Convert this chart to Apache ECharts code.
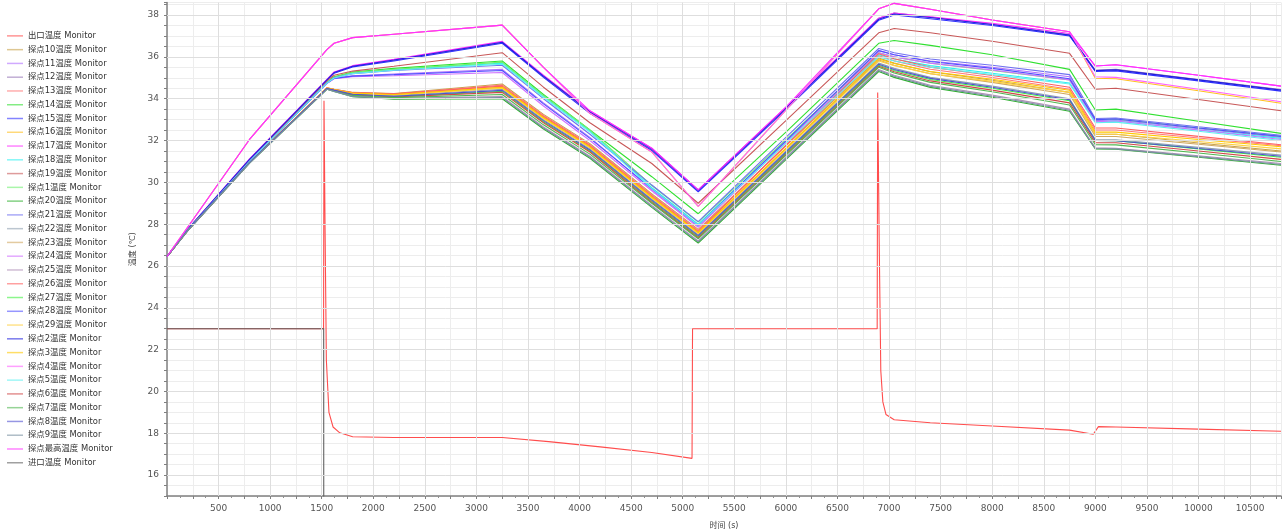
<!DOCTYPE html>
<html>
<head>
<meta charset="utf-8">
<script src="https://cdn.jsdelivr.net/npm/echarts@6/dist/echarts.min.js"></script>
<style>
html,body{margin:0;padding:0;background:#fff;}
#chart{width:1282px;height:530px;}
</style>
</head>
<body>
<div id="chart"></div>
<script>
// Sample times (s) shared by all probe curves
const timeS = [0, 200, 800, 1550, 1620, 1800, 2200, 3250, 3650, 4100, 4700, 5150, 6000, 6900, 7050, 7400, 8000, 8750, 9000, 9200, 10000, 10800];

// Probe temperatures (°C) at each sample time
const probe1  = [26.45, 27.72, 31.0, 34.76, 35.02, 35.25, 35.4, 35.75, 34.15, 32.5, 29.85, 28.1, 32.04, 36.2, 36.0, 35.7, 35.35, 34.9, 33.0, 33.03, 32.6, 32.2];
const probe2  = [26.45, 27.75, 31.1, 34.9, 35.25, 35.55, 35.85, 36.7, 35.08, 33.38, 31.6, 29.63, 33.55, 37.8, 38.05, 37.88, 37.55, 37.04, 35.34, 35.38, 34.9, 34.41];
const probe3  = [26.45, 27.7, 30.95, 34.51, 34.44, 34.27, 34.2, 34.55, 33.1, 31.7, 29.3, 27.6, 31.63, 35.9, 35.68, 35.3, 34.93, 34.4, 32.4, 32.4, 32.05, 31.7];
const probe4  = [26.45, 27.85, 32.05, 36.35, 36.65, 36.92, 37.08, 37.52, 35.5, 33.3, 31.45, 28.85, 33.45, 38.3, 38.56, 38.28, 37.76, 37.2, 35.05, 35.02, 34.45, 33.85];
const probe5  = [26.45, 27.72, 31.0, 34.74, 34.99, 35.2, 35.36, 35.65, 34.05, 32.4, 29.7, 27.95, 31.86, 36.0, 35.8, 35.5, 35.15, 34.7, 32.85, 32.88, 32.44, 32.0];
const probe6  = [26.45, 27.69, 30.94, 34.48, 34.39, 34.18, 34.08, 34.3, 32.85, 31.45, 29.05, 27.35, 31.34, 35.55, 35.29, 34.85, 34.41, 33.8, 31.9, 31.89, 31.5, 31.1];
const probe7  = [26.45, 27.69, 30.93, 34.47, 34.38, 34.16, 34.05, 34.2, 32.75, 31.35, 29.0, 27.3, 31.29, 35.5, 35.23, 34.78, 34.33, 33.7, 31.8, 31.79, 31.4, 31.0];
const probe8  = [26.45, 27.7, 30.95, 34.49, 34.41, 34.21, 34.12, 34.4, 32.95, 31.55, 29.15, 27.45, 31.44, 35.65, 35.4, 34.97, 34.55, 33.95, 32.0, 31.99, 31.62, 31.25];
const probe9  = [26.45, 27.68, 30.92, 34.45, 34.35, 34.11, 34.0, 34.05, 32.6, 31.2, 28.85, 27.15, 31.14, 35.35, 35.07, 34.59, 34.12, 33.45, 31.62, 31.6, 31.23, 30.85];
const probe10 = [26.45, 27.7, 30.95, 34.52, 34.45, 34.3, 34.25, 34.7, 33.25, 31.85, 29.45, 27.75, 31.74, 35.95, 35.7, 35.29, 34.88, 34.3, 32.3, 32.3, 31.88, 31.5];
const probe11 = [26.45, 27.72, 31.0, 34.74, 34.98, 35.1, 35.18, 35.4, 33.8, 32.15, 29.65, 27.9, 31.98, 36.3, 36.1, 35.8, 35.5, 35.05, 32.95, 32.98, 32.56, 32.15];
const probe12 = [26.45, 27.74, 31.09, 34.9, 35.24, 35.55, 35.84, 36.68, 35.05, 33.35, 31.56, 29.6, 33.55, 37.85, 38.1, 37.9, 37.56, 37.05, 35.36, 35.4, 34.92, 34.44];
const probe13 = [26.45, 27.7, 30.95, 34.5, 34.44, 34.28, 34.22, 34.65, 33.2, 31.8, 29.4, 27.7, 31.76, 36.05, 35.81, 35.41, 35.01, 34.45, 32.5, 32.5, 32.12, 31.75];
const probe14 = [26.45, 27.72, 31.0, 34.78, 35.05, 35.28, 35.45, 35.8, 34.2, 32.5, 30.27, 28.5, 32.4, 36.65, 36.78, 36.55, 36.1, 35.4, 33.46, 33.5, 32.92, 32.34];
const probe15 = [26.45, 27.74, 31.08, 34.88, 35.22, 35.52, 35.8, 36.65, 35.02, 33.3, 31.52, 29.55, 33.48, 37.75, 38.0, 37.82, 37.5, 37.0, 35.3, 35.33, 34.85, 34.36];
const probe16 = [26.45, 27.85, 32.05, 36.35, 36.65, 36.92, 37.08, 37.52, 35.5, 33.3, 31.45, 28.85, 33.45, 38.3, 38.56, 38.28, 37.76, 37.2, 34.98, 34.95, 34.38, 33.78];
const probe17 = [26.45, 27.75, 31.12, 34.92, 35.28, 35.58, 35.88, 36.74, 35.12, 33.42, 31.63, 29.64, 33.6, 37.85, 38.1, 37.92, 37.6, 37.12, 35.56, 35.62, 35.12, 34.6];
const probe18 = [26.45, 27.72, 31.0, 34.75, 35.0, 35.22, 35.38, 35.7, 34.1, 32.45, 29.75, 28.0, 31.95, 36.1, 35.9, 35.58, 35.22, 34.75, 32.9, 32.93, 32.5, 32.1];
const probe19 = [26.45, 27.74, 31.05, 34.85, 35.12, 35.32, 35.55, 36.2, 34.55, 32.85, 30.9, 29.0, 32.95, 37.15, 37.36, 37.15, 36.75, 36.17, 34.45, 34.5, 33.96, 33.42];
const probe20 = [26.45, 27.68, 30.92, 34.45, 34.35, 34.1, 33.98, 34.0, 32.55, 31.15, 28.8, 27.1, 31.09, 35.3, 35.02, 34.54, 34.07, 33.4, 31.6, 31.58, 31.2, 30.82];
const probe21 = [26.45, 27.72, 31.0, 34.75, 35.0, 35.2, 35.35, 35.6, 34.0, 32.3, 29.87, 28.12, 32.15, 36.4, 36.2, 35.9, 35.6, 35.15, 33.05, 33.08, 32.66, 32.25];
const probe22 = [26.45, 27.7, 30.95, 34.5, 34.42, 34.22, 34.15, 34.45, 33.0, 31.6, 29.2, 27.5, 31.49, 35.7, 35.45, 35.02, 34.6, 34.0, 32.05, 32.04, 31.67, 31.3];
const probe23 = [26.45, 27.7, 30.95, 34.51, 34.44, 34.26, 34.2, 34.55, 33.1, 31.7, 29.3, 27.6, 31.61, 35.85, 35.6, 35.19, 34.78, 34.2, 32.2, 32.19, 31.82, 31.45];
const probe24 = [26.45, 27.72, 31.0, 34.73, 34.95, 35.05, 35.1, 35.25, 33.65, 32.0, 29.6, 27.85, 31.9, 36.2, 36.0, 35.7, 35.37, 34.9, 32.9, 32.93, 32.5, 32.05];
const probe25 = [26.45, 27.68, 30.92, 34.46, 34.36, 34.12, 34.02, 34.1, 32.65, 31.25, 28.9, 27.2, 31.19, 35.4, 35.12, 34.64, 34.17, 33.5, 31.65, 31.63, 31.27, 30.9];
const probe26 = [26.45, 27.7, 30.95, 34.52, 34.45, 34.29, 34.23, 34.6, 33.15, 31.75, 29.35, 27.65, 31.78, 36.15, 35.91, 35.51, 35.11, 34.55, 32.6, 32.6, 32.2, 31.8];
const probe27 = [26.45, 27.7, 30.94, 34.49, 34.4, 34.2, 34.1, 34.35, 32.9, 31.5, 29.1, 27.4, 31.39, 35.6, 35.35, 34.92, 34.5, 33.9, 32.0, 31.99, 31.6, 31.2];
const probe28 = [26.45, 27.72, 31.0, 34.74, 34.97, 35.08, 35.15, 35.35, 33.75, 32.1, 29.7, 27.95, 31.98, 36.3, 36.1, 35.78, 35.45, 34.95, 33.0, 33.03, 32.6, 32.2];
const probe29 = [26.45, 27.7, 30.95, 34.5, 34.43, 34.25, 34.18, 34.5, 33.05, 31.65, 29.25, 27.55, 31.56, 35.8, 35.58, 35.2, 34.83, 34.3, 32.3, 32.3, 31.95, 31.6];
const probeMax = [26.45, 27.85, 32.05, 36.35, 36.65, 36.92, 37.08, 37.52, 35.5, 33.42, 31.63, 29.64, 33.6, 38.3, 38.56, 38.28, 37.76, 37.2, 35.56, 35.62, 35.12, 34.6];

// Outlet temperature with its own time base
const outletTime = [0, 1518, 1522, 1532, 1545, 1570, 1610, 1675, 1800, 2200, 3250, 3700, 4200, 4700, 5090, 5095, 6885, 6890, 6905, 6920, 6940, 6970, 7050, 7400, 8000, 8750, 8980, 9030, 9200, 10000, 10800];
const outletTemp = [23, 23, 33.9, 28.0, 21.5, 19.0, 18.3, 18.02, 17.83, 17.8, 17.8, 17.6, 17.35, 17.08, 16.8, 23, 23, 34.3, 27.0, 21.0, 19.5, 18.9, 18.65, 18.5, 18.35, 18.15, 17.95, 18.32, 18.3, 18.2, 18.1];

// Inlet temperature (drops below the plotted range after 1520 s)
const inletTime = [0, 1519, 1520, 10800];
const inletTemp = [23, 23, 10, 10];

// Axis tick labels
const xTickLabels = [500, 1000, 1500, 2000, 2500, 3000, 3500, 4000, 4500, 5000, 5500, 6000, 6500, 7000, 7500, 8000, 8500, 9000, 9500, 10000, 10500];
const yTickLabels = [16, 18, 20, 22, 24, 26, 28, 30, 32, 34, 36, 38];

const seriesDefs = [
  ['出口温度 Monitor', '#ff4d4d', outletTemp, outletTime],
  ['探点10温度 Monitor', '#c8a24a', probe10],
  ['探点11温度 Monitor', '#b070ff', probe11],
  ['探点12温度 Monitor', '#9878b8', probe12],
  ['探点13温度 Monitor', '#ff7878', probe13],
  ['探点14温度 Monitor', '#30e030', probe14],
  ['探点15温度 Monitor', '#3030ff', probe15],
  ['探点16温度 Monitor', '#ffc020', probe16],
  ['探点17温度 Monitor', '#ff30ff', probe17],
  ['探点18温度 Monitor', '#30f0f0', probe18],
  ['探点19温度 Monitor', '#c85858', probe19],
  ['探点1温度 Monitor', '#70f070', probe1],
  ['探点20温度 Monitor', '#30b030', probe20],
  ['探点21温度 Monitor', '#7070f0', probe21],
  ['探点22温度 Monitor', '#8fa0b0', probe22],
  ['探点23温度 Monitor', '#d0a860', probe23],
  ['探点24温度 Monitor', '#d070ff', probe24],
  ['探点25温度 Monitor', '#b090b8', probe25],
  ['探点26温度 Monitor', '#ff6060', probe26],
  ['探点27温度 Monitor', '#40f040', probe27],
  ['探点28温度 Monitor', '#5050ff', probe28],
  ['探点29温度 Monitor', '#ffd040', probe29],
  ['探点2温度 Monitor', '#2020e0', probe2],
  ['探点3温度 Monitor', '#ffc800', probe3],
  ['探点4温度 Monitor', '#ff60ff', probe4],
  ['探点5温度 Monitor', '#60f0f0', probe5],
  ['探点6温度 Monitor', '#d04848', probe6],
  ['探点7温度 Monitor', '#50b850', probe7],
  ['探点8温度 Monitor', '#5050d0', probe8],
  ['探点9温度 Monitor', '#7890a0', probe9],
  ['探点最高温度 Monitor', '#ff30ff', probeMax],
  ['进口温度 Monitor', '#606060', inletTemp, inletTime]
];

const FONT = '"DejaVu Sans", "Noto Sans CJK SC", sans-serif';

const series = [
  // heavier grid lines at the labelled values
  {
    name: 'grid-major', type: 'line', data: [], z: 1, silent: true,
    markLine: {
      silent: true, symbol: 'none', label: { show: false },
      lineStyle: { color: '#dedede', width: 1, type: 'solid' },
      emphasis: { disabled: true },
      data: yTickLabels.map(v => ({ yAxis: v })).concat(xTickLabels.map(v => ({ xAxis: v })))
    }
  }
].concat(seriesDefs.map(([name, color, vals, times]) => ({
  name, type: 'line', showSymbol: false, symbol: 'none', z: 3,
  lineStyle: { color, width: 1.1 }, itemStyle: { color },
  emphasis: { disabled: true },
  data: vals.map((v, i) => [(times || timeS)[i], v])
})));

const chart = echarts.init(document.getElementById('chart'), null, { renderer: 'canvas' });
chart.setOption({
  animation: false,
  backgroundColor: '#ffffff',
  grid: { left: 167, right: 1, top: 2.5, bottom: 34, containLabel: false, outerBoundsMode: 'none' },
  legend: {
    orient: 'vertical', left: 7, top: 29, padding: 0,
    data: seriesDefs.map(d => d[0]),
    icon: 'rect', itemWidth: 16, itemHeight: 1.5, itemGap: 0,
    itemStyle: { opacity: 0.6 },
    textStyle: { fontSize: 8.4, lineHeight: 13.77, color: '#333', fontFamily: FONT },
    selectedMode: false
  },
  xAxis: {
    type: 'value', min: 0, max: 10800, interval: 250,
    name: '时间 (s)', nameLocation: 'middle', nameGap: 26,
    nameTextStyle: { fontSize: 8, color: '#444', fontFamily: FONT },
    axisLine: { show: true, onZero: false, lineStyle: { color: '#808080', width: 1.5 } },
    axisTick: { show: true, length: 3, lineStyle: { color: '#808080' } },
    minorTick: { show: true, splitNumber: 2, length: 2, lineStyle: { color: '#909090' } },
    axisLabel: {
      fontSize: 9, color: '#555', fontFamily: FONT, margin: 8,
      formatter: v => xTickLabels.indexOf(Math.round(v)) >= 0 && Math.abs(v - Math.round(v)) < 1e-6 ? String(Math.round(v)) : ''
    },
    splitLine: { show: true, lineStyle: { color: '#ededed', width: 1 } }
  },
  yAxis: {
    type: 'value', min: 15, max: 38.6, interval: 0.5,
    name: '温度 (℃)', nameLocation: 'middle', nameGap: 26, nameRotate: 90,
    nameTextStyle: { fontSize: 8, color: '#444', fontFamily: FONT },
    axisLine: { show: true, onZero: false, lineStyle: { color: '#808080', width: 1.5 } },
    axisTick: { show: true, length: 3, lineStyle: { color: '#808080' } },
    axisLabel: {
      fontSize: 9, color: '#555', fontFamily: FONT, margin: 8,
      formatter: v => {
        const r = Math.round(v);
        return Math.abs(v - r) < 1e-6 && yTickLabels.indexOf(r) >= 0 ? String(r) : '';
      }
    },
    splitLine: { show: true, lineStyle: { color: '#ededed', width: 1 } }
  },
  series
});
</script>
</body>
</html>
